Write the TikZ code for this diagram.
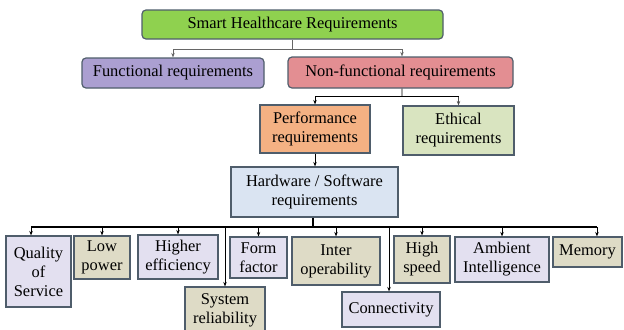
\documentclass[tikz,border=0pt]{standalone}
\usepackage{fontspec}
\setmainfont{Liberation Serif}
\usetikzlibrary{arrows.meta}
\definecolor{cGreen}{HTML}{8FD14F}
\definecolor{cFunc}{HTML}{AB9FD1}
\definecolor{cNon}{HTML}{E38E92}
\definecolor{cPerf}{HTML}{F4B183}
\definecolor{cEth}{HTML}{D9E4C0}
\definecolor{cHW}{HTML}{DAE4F2}
\definecolor{cLav}{HTML}{E3E0F0}
\definecolor{cTan}{HTML}{DEDBC6}
\definecolor{cBorder}{HTML}{4F5D6B}
\tikzset{
  box/.style={draw=cBorder, line width=1.2pt, inner sep=0pt, align=center,
    font=\fontsize{16.5}{19}\selectfont, text=black},
  rbox/.style={box, rounded corners=4pt},
  arr/.style={-{Stealth[length=4.5pt,width=3.5pt]}, line width=0.9pt},
  garr/.style={arr, draw=black!60},
  bus/.style={line width=1.5pt}
}
\begin{document}
\begin{tikzpicture}[x=1bp,y=-1bp]
\useasboundingbox (0,0) rectangle (624,329);
% top levels
\node[rbox, fill=cGreen, minimum width=301bp, minimum height=29bp] (smart) at (292.5,24.5) {Smart Healthcare Requirements};
\node[rbox, fill=cFunc, minimum width=182bp, minimum height=30bp] (func) at (173,73) {Functional requirements};
\node[rbox, fill=cNon, minimum width=225bp, minimum height=31bp] (non) at (400.5,72.5) {Non-functional requirements};
\node[box, fill=cPerf, minimum width=110bp, minimum height=48bp] (perf) at (315,129) {Performance\\requirements};
\node[box, fill=cEth, minimum width=111bp, minimum height=49bp] (eth) at (458.5,130.5) {Ethical\\requirements};
\node[box, fill=cHW, minimum width=167bp, minimum height=50bp] (hw) at (314.5,192) {Hardware / Software\\requirements};
% leaves
\node[box, fill=cLav, minimum width=65bp, minimum height=71bp] (qos) at (38.5,271.5) {Quality\\of\\Service};
\node[box, fill=cTan, minimum width=56bp, minimum height=43bp] (low) at (102,257.5) {Low\\power};
\node[box, fill=cLav, minimum width=80bp, minimum height=44bp] (eff) at (178,257) {Higher\\efficiency};
\node[box, fill=cLav, minimum width=57bp, minimum height=41bp] (form) at (258.5,257.5) {Form\\factor};
\node[box, fill=cTan, minimum width=88bp, minimum height=48bp] (inter) at (336,261) {Inter\\operability};
\node[box, fill=cTan, minimum width=80bp, minimum height=46bp] (sys) at (225,310) {System\\reliability};
\node[box, fill=cLav, minimum width=98bp, minimum height=35bp] (conn) at (391,309.5) {Connectivity};
\node[box, fill=cTan, minimum width=56bp, minimum height=47bp] (speed) at (422,259.5) {High\\speed};
\node[box, fill=cLav, minimum width=94bp, minimum height=45bp] (amb) at (502,259.5) {Ambient\\Intelligence};
\node[box, fill=cTan, minimum width=69bp, minimum height=30bp] (mem) at (587.5,252) {Memory};
% connectors level 1
\coordinate (j1) at (292.5,49);
\draw[line width=0.9pt, draw=black!60] (smart.south) -- (j1);
\draw[line width=0.9pt, draw=black!60] (func.north |- j1) -- ([xshift=1.5pt]non.north |- j1);
\draw[garr] (func.north |- j1) -- (func.north);
\draw[garr] ([xshift=1.5pt]non.north |- j1) -- ([xshift=1.5pt]non.north);
% level 2
\coordinate (j2) at (402,96.5);
\draw[line width=0.9pt] ([xshift=1.5pt]non.south) -- (j2);
\draw[line width=0.9pt] (perf.north |- j2) -- (eth.north |- j2);
\draw[arr] (perf.north |- j2) -- (perf.north);
\draw[arr, draw=black!70] (eth.north |- j2) -- (eth.north);
% level 3
\draw[arr] (perf.south) -- (perf.south |- hw.north);
% bus
\coordinate (bus) at (313,227);
\draw[bus] (bus |- hw.south) -- (bus);
\draw[bus] ([xshift=-7.5pt]qos.north |- bus) -- ([xshift=9.5pt]mem.north |- bus);
\draw[arr] ([xshift=-7.5pt]qos.north |- bus) -- ([xshift=-7.5pt]qos.north);
\draw[arr] (low.north |- bus) -- (low.north);
\draw[arr] (eff.north |- bus) -- (eff.north);
\draw[arr] (form.north |- bus) -- (form.north);
\draw[arr] (inter.north |- bus) -- (inter.north);
\draw[arr] (speed.north |- bus) -- (speed.north);
\draw[arr] (amb.north |- bus) -- (amb.north);
\draw[arr] ([xshift=9.5pt]mem.north |- bus) -- ([xshift=9.5pt]mem.north);
\draw[arr] (sys.north |- bus) -- (sys.north);
\draw[arr] ([xshift=-2pt]conn.north |- bus) -- ([xshift=-2pt]conn.north);
\end{tikzpicture}
\end{document}
